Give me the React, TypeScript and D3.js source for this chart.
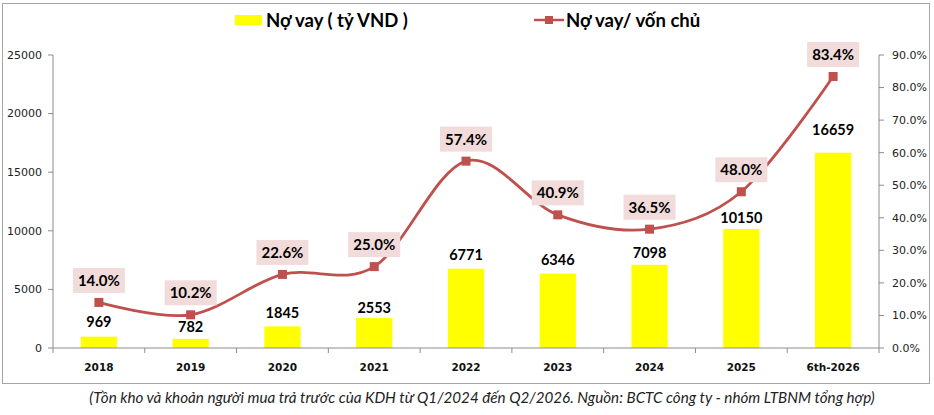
import React from "react";
import * as d3 from "d3";

const categories = ["2018", "2019", "2020", "2021", "2022", "2023", "2024", "2025", "6th-2026"];
const debtValues = [969, 782, 1845, 2553, 6771, 6346, 7098, 10150, 16659];
const debtToEquity = [0.14, 0.102, 0.226, 0.25, 0.574, 0.409, 0.365, 0.48, 0.834];
const leftTicks = [0, 5000, 10000, 15000, 20000, 25000];
const rightTicks = [0, 0.1, 0.2, 0.3, 0.4, 0.5, 0.6, 0.7, 0.8, 0.9];
const barLegend = "Nợ vay ( tỷ VND )";
const lineLegend = "Nợ vay/ vốn chủ";
const caption =
  "(Tồn kho và khoản người mua trả trước của KDH từ Q1/2024 đến Q2/2026. Nguồn: BCTC công ty - nhóm LTBNM tổng hợp)";

// layout tweaks (label lift above bar tops, px)
const barLabelLift = [15, 12, 13, 10, 14, 14, 12, 11, 23];

const W = 934;
const H = 415;
const plotL = 53;
const plotR = 879;
const plotT = 55;
const plotB = 348;
const axisColor = "#8c8c8c";
const lineColor = "#C0504D";
const boxColor = "#F2DCDB";
const tickFont = "'DejaVu Sans', sans-serif";
const labelFont = "Lato, 'Open Sans', sans-serif";

export default function App() {
  const x = d3.scaleBand<string>().domain(categories).range([plotL, plotR]).paddingInner(0).paddingOuter(0);
  const bw = x.bandwidth();
  const barW = bw * 0.395;
  const yL = d3.scaleLinear().domain([0, 25000]).range([plotB, plotT]);
  const yR = d3.scaleLinear().domain([0, 0.9]).range([plotB, plotT]);
  const pct = d3.format(".1%");
  const cx = (c: string) => (x(c) as number) + bw / 2;

  const linePath = d3
    .line<number>()
    .x((_, i) => cx(categories[i]))
    .y((d) => yR(d))
    .curve(d3.curveCardinal.tension(0))(debtToEquity) as string;

  const boundaries = d3.range(categories.length + 1).map((i) => plotL + i * bw);

  return (
    <div>
      <style>{`body{margin:0;background:#fff}`}</style>
      <svg width={W} height={H} style={{ display: "block" }}>
        <rect x={0} y={0} width={W} height={H} fill="#fff" />
        <rect x={2.5} y={3.5} width={927} height={380} fill="none" stroke="#a6a6a6" strokeWidth={1} />

        {/* legend */}
        <rect x={235} y={15} width={27} height={10} fill="#FFFF00" />
        <text x={266} y={26.5} fontFamily={labelFont} fontWeight={700} fontSize={18.5} fill="#000">
          {barLegend}
        </text>
        <line x1={534} x2={564} y1={20} y2={20} stroke={lineColor} strokeWidth={2.5} />
        <rect x={545} y={16} width={8} height={8} fill={lineColor} />
        <text x={566} y={26.5} fontFamily={labelFont} fontWeight={700} fontSize={18.5} fill="#000">
          {lineLegend}
        </text>

        {/* bars */}
        {debtValues.map((v, i) => (
          <rect
            key={"b" + i}
            x={cx(categories[i]) - barW / 2}
            y={yL(v)}
            width={barW}
            height={plotB - yL(v)}
            fill="#FFFF00"
          />
        ))}

        {/* axes */}
        <line x1={plotL} x2={plotL} y1={plotT} y2={plotB} stroke={axisColor} />
        <line x1={plotR} x2={plotR} y1={plotT} y2={plotB} stroke={axisColor} />
        <line x1={plotL} x2={plotR} y1={plotB} y2={plotB} stroke={axisColor} />
        {leftTicks.map((t) => (
          <g key={"l" + t}>
            <line x1={plotL - 5} x2={plotL} y1={yL(t)} y2={yL(t)} stroke={axisColor} />
            <text
              x={42}
              y={yL(t)}
              dy="0.35em"
              textAnchor="end"
              fontFamily={tickFont}
              fontSize={11}
              fill="#222"
            >
              {t}
            </text>
          </g>
        ))}
        {rightTicks.map((t) => (
          <g key={"r" + t}>
            <line x1={plotR} x2={plotR + 5} y1={yR(t)} y2={yR(t)} stroke={axisColor} />
            <text x={892} y={yR(t)} dy="0.35em" fontFamily={tickFont} fontSize={11} fill="#222">
              {pct(t)}
            </text>
          </g>
        ))}
        {boundaries.map((b, i) => (
          <line key={"xt" + i} x1={b} x2={b} y1={plotB} y2={plotB + 5} stroke={axisColor} />
        ))}
        {categories.map((c) => (
          <text
            key={"xl" + c}
            x={cx(c)}
            y={367}
            dy="0.35em"
            textAnchor="middle"
            fontFamily={tickFont}
            fontWeight={700}
            fontSize={10.5}
            fill="#111"
          >
            {c}
          </text>
        ))}

        {/* bar labels */}
        {debtValues.map((v, i) => (
          <text
            key={"bl" + i}
            x={cx(categories[i])}
            y={yL(v) - barLabelLift[i]}
            dy="0.35em"
            textAnchor="middle"
            fontFamily={labelFont}
            fontWeight={700}
            fontSize={14.5}
            fill="#000"
          >
            {v}
          </text>
        ))}

        {/* line */}
        <path d={linePath} fill="none" stroke={lineColor} strokeWidth={2.8} />
        {debtToEquity.map((v, i) => (
          <rect
            key={"m" + i}
            x={cx(categories[i]) - 4.5}
            y={yR(v) - 4.5}
            width={9}
            height={9}
            fill={lineColor}
          />
        ))}

        {/* line labels */}
        {debtToEquity.map((v, i) => {
          const px = cx(categories[i]);
          const py = yR(v) - 22;
          return (
            <g key={"ll" + i}>
              <rect x={px - 26} y={py - 12.5} width={52} height={25} fill={boxColor} />
              <text
                x={px}
                y={py}
                dy="0.36em"
                textAnchor="middle"
                fontFamily={labelFont}
                fontWeight={700}
                fontSize={15}
                fill="#000"
              >
                {pct(v)}
              </text>
            </g>
          );
        })}

        {/* caption */}
        <text
          x={482}
          y={398}
          dy="0.35em"
          textAnchor="middle"
          fontFamily={labelFont}
          fontStyle="italic"
          fontSize={15.2}
          fill="#222"
        >
          {caption}
        </text>
      </svg>
    </div>
  );
}
